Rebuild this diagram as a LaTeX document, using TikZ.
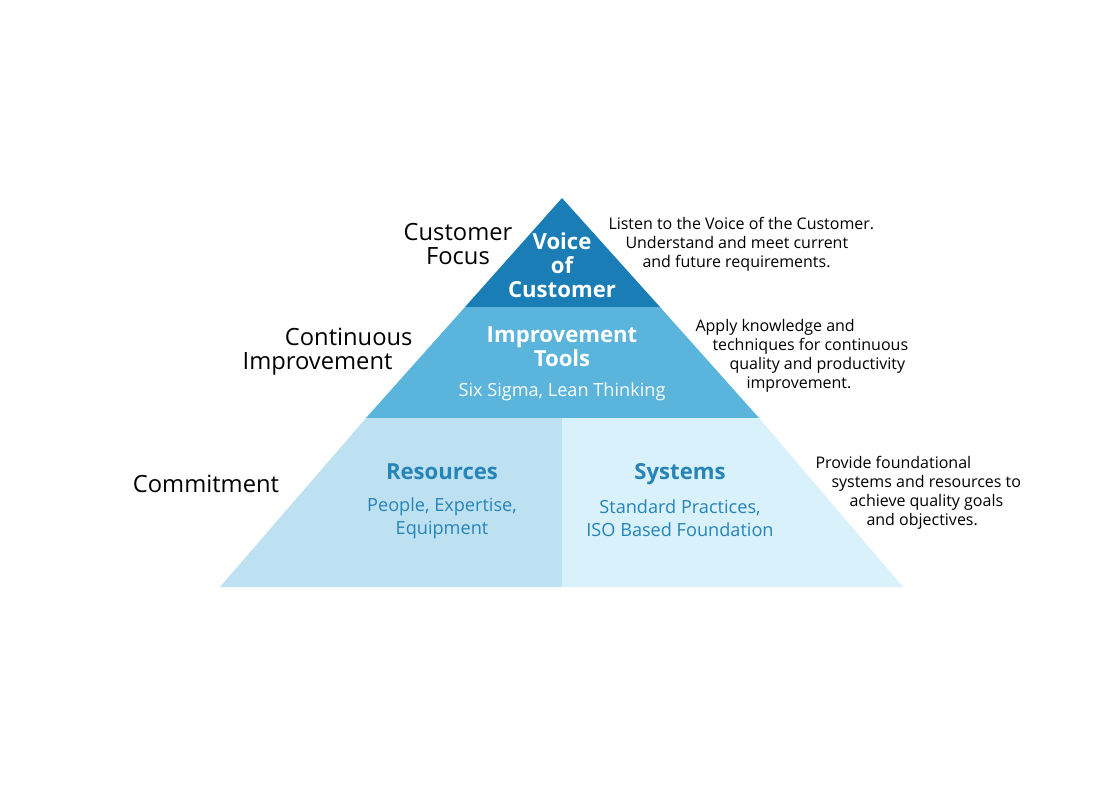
\documentclass[tikz,border=0pt]{standalone}
\usepackage{fontspec}
\setmainfont{Open Sans}
\definecolor{vocblue}{RGB}{26,125,181}
\definecolor{toolblue}{RGB}{90,180,219}
\definecolor{resblue}{RGB}{189,225,240}
\definecolor{sysblue}{RGB}{217,241,250}
\definecolor{labblue}{RGB}{38,132,184}
\tikzset{every picture/.style={line width=0.75pt}}
\tikzset{
  sidelabel/.style={font=\fontsize{17.8}{18}\selectfont, inner sep=0pt},
  sidenote/.style={font=\fontsize{12}{14.25}\selectfont, align=left, anchor=north west, inner sep=0pt},
  tiertitle/.style={font=\bfseries\fontsize{16.6}{18}\selectfont, align=center, inner sep=0pt},
  tiersub/.style={font=\fontsize{13.6}{17.25}\selectfont, align=center, inner sep=0pt}
}

\begin{document}
\begin{tikzpicture}[x=0.75pt,y=0.75pt,yscale=-1,xscale=1]
	\useasboundingbox (0,0) rectangle (1107,800);
	\fill[white] (0,0) rectangle (1107,800);

	%Pyramid tiers
	\fill[vocblue] (562,198) -- (660,307) -- (465,307) -- cycle ;
	\fill[toolblue] (465,307) -- (660,307) -- (759,418) -- (366,418) -- cycle ;
	\fill[resblue] (366,418) -- (562,418) -- (562,587) -- (220,587) -- cycle ;
	\fill[sysblue] (562,418) -- (759,418) -- (903,587) -- (562,587) -- cycle ;

	% Text inside the tiers
	\node[tiertitle, text=white] (voice) at (562,265) {Voice\\of\\Customer};
	\node[tiertitle, text=white] (tools) at (562,347) {Improvement\\Tools};
	\node[tiersub, text=white] (sigma) at (562,392) {Six Sigma, Lean Thinking};
	\node[tiertitle, text=labblue, anchor=base] (resources) at (442,479) {Resources};
	\node[tiersub, text=labblue] (people) at (442,518) {People, Expertise,\\Equipment};
	\node[tiertitle, text=labblue, anchor=base] (systems) at (680,479) {Systems};
	\node[tiersub, text=labblue] (practices) at (680,518) {Standard Practices,\\ISO Based Foundation};

	% Left labels
	\node[sidelabel, align=center] (focus) at (458,244) {Customer\\Focus};
	\node[sidelabel, align=right, anchor=east] (continuous) at (413,352) {Continuous\\Improvement\hspace*{15pt}};
	\node[sidelabel] (commitment) at (206,484) {Commitment};

	% Right notes
	\node[sidenote] (listen) at (608,217) {Listen to the Voice of the Customer.\\\hspace*{12.75pt}Understand and meet current\\\hspace*{25.5pt}and future requirements.};
	\node[sidenote] (apply) at (695,319) {Apply knowledge and\\\hspace*{12.75pt}techniques for continuous\\\hspace*{25.5pt}quality and productivity\\\hspace*{38.25pt}improvement.};
	\node[sidenote] (provide) at (815,456) {Provide foundational\\\hspace*{12pt}systems and resources to\\\hspace*{25.5pt}achieve quality goals\\\hspace*{38.25pt}and objectives.};

\end{tikzpicture}
\end{document}
